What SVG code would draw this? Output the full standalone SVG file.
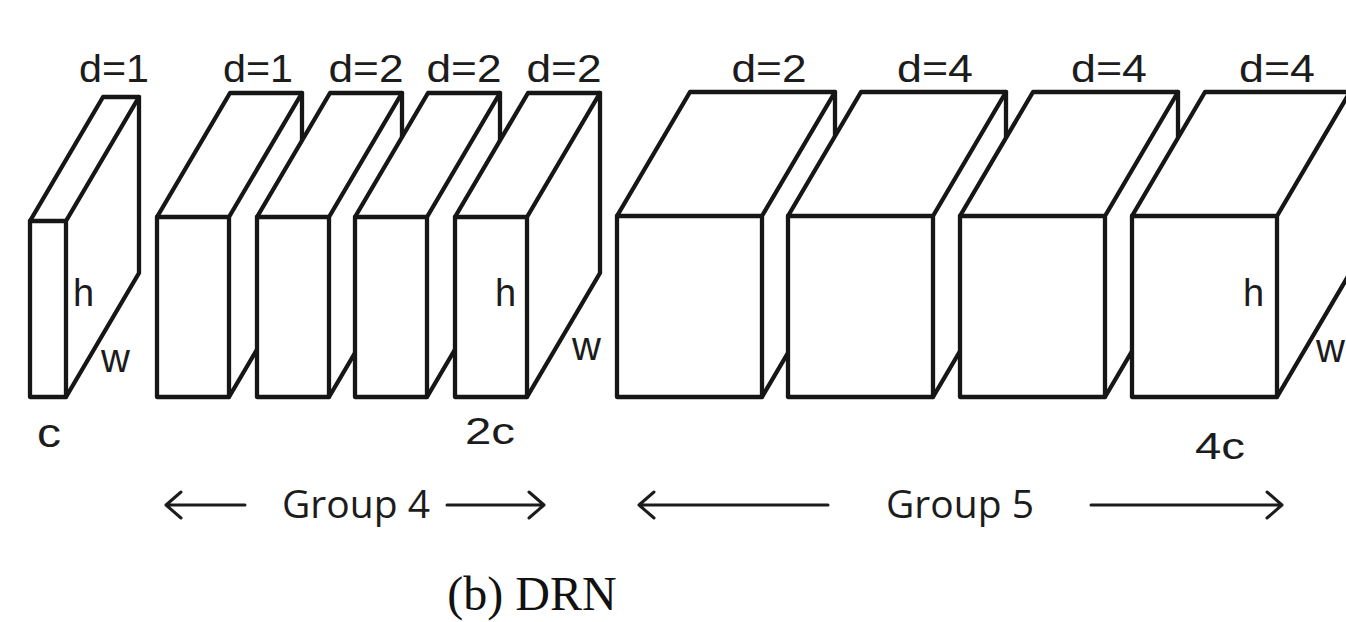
<svg xmlns="http://www.w3.org/2000/svg" width="1346" height="622" viewBox="0 0 1346 622">
  <style>
    .box .solid { fill: #fff; stroke: #161616; stroke-width: 4.3; stroke-linejoin: round; stroke-linecap: round; }
    .box .edge { fill: none; stroke: #161616; stroke-width: 4.3; stroke-linejoin: round; stroke-linecap: round; }
    .lbl { font-family: "Liberation Sans", Arial, sans-serif; fill: #1c1c1c; }
    .d { font-size: 38px; text-anchor: middle; }
    .grp { font-family: "Open Sans", "Noto Sans", sans-serif; font-size: 39px; fill: #1c1c1c; text-anchor: middle; }
    .cap { font-family: "Liberation Serif", "Times New Roman", serif; font-size: 48px; fill: #111; text-anchor: middle; }
    .arrow { fill: none; stroke: #1c1c1c; stroke-width: 3; stroke-linecap: round; stroke-linejoin: round; }
  </style>
  <rect width="1346" height="622" fill="#fff"/>

  <!-- each block: filled silhouette, then the front/top/side dividing edges; depth offset (73,-124) -->

  <!-- input block -->
  <g id="block-c" class="box">
    <path class="solid" d="M30 397 V221 L103 97 H139 V273 L66 397 Z"/>
    <path class="edge" d="M30 221 H66 L139 97 M66 221 V397"/>
  </g>

  <!-- Group 4: four 2c blocks -->
  <g id="g4-block1" class="box">
    <path class="solid" d="M157 397 V217 L230 93 H302 V273 L229 397 Z"/>
    <path class="edge" d="M157 217 H229 L302 93 M229 217 V397"/>
  </g>
  <g id="g4-block2" class="box">
    <path class="solid" d="M257 397 V217 L330 93 H402 V273 L329 397 Z"/>
    <path class="edge" d="M257 217 H329 L402 93 M329 217 V397"/>
  </g>
  <g id="g4-block3" class="box">
    <path class="solid" d="M355 397 V217 L428 93 H500 V273 L427 397 Z"/>
    <path class="edge" d="M355 217 H427 L500 93 M427 217 V397"/>
  </g>
  <g id="g4-block4" class="box">
    <path class="solid" d="M455 397 V217 L528 93 H600 V273 L527 397 Z"/>
    <path class="edge" d="M455 217 H527 L600 93 M527 217 V397"/>
  </g>

  <!-- Group 5: four 4c blocks -->
  <g id="g5-block1" class="box">
    <path class="solid" d="M617 397 V216 L690 92 H835 V273 L762 397 Z"/>
    <path class="edge" d="M617 216 H762 L835 92 M762 216 V397"/>
  </g>
  <g id="g5-block2" class="box">
    <path class="solid" d="M788 397 V216 L861 92 H1006 V273 L933 397 Z"/>
    <path class="edge" d="M788 216 H933 L1006 92 M933 216 V397"/>
  </g>
  <g id="g5-block3" class="box">
    <path class="solid" d="M960 397 V216 L1033 92 H1178 V273 L1105 397 Z"/>
    <path class="edge" d="M960 216 H1105 L1178 92 M1105 216 V397"/>
  </g>
  <g id="g5-block4" class="box">
    <path class="solid" d="M1132 397 V216 L1205 92 H1350 V273 L1277 397 Z"/>
    <path class="edge" d="M1132 216 H1277 L1350 92 M1277 216 V397"/>
  </g>

  <!-- dilation labels -->
  <g id="dilations" class="lbl d">
    <text x="114" y="82" textLength="70" lengthAdjust="spacingAndGlyphs">d=1</text>
    <text x="258" y="82" textLength="70" lengthAdjust="spacingAndGlyphs">d=1</text>
    <text x="366" y="82" textLength="75" lengthAdjust="spacingAndGlyphs">d=2</text>
    <text x="464" y="82" textLength="75" lengthAdjust="spacingAndGlyphs">d=2</text>
    <text x="564" y="82" textLength="75" lengthAdjust="spacingAndGlyphs">d=2</text>
    <text x="769" y="82" textLength="75" lengthAdjust="spacingAndGlyphs">d=2</text>
    <text x="935" y="82" textLength="76" lengthAdjust="spacingAndGlyphs">d=4</text>
    <text x="1109" y="82" textLength="76" lengthAdjust="spacingAndGlyphs">d=4</text>
    <text x="1277" y="82" textLength="76" lengthAdjust="spacingAndGlyphs">d=4</text>
  </g>

  <!-- dimension labels -->
  <g id="dims" class="lbl">
    <text x="73" y="306" font-size="38">h</text>
    <text x="495" y="306" font-size="38">h</text>
    <text x="1243" y="306" font-size="38">h</text>
    <text x="101" y="372" font-size="40">w</text>
    <text x="572" y="360" font-size="40">w</text>
    <text x="1316" y="362" font-size="40">w</text>
    <text x="37" y="447" font-size="40" textLength="24" lengthAdjust="spacingAndGlyphs">c</text>
    <text x="465" y="444" font-size="37" textLength="50" lengthAdjust="spacingAndGlyphs">2c</text>
    <text x="1195" y="459" font-size="37" textLength="50" lengthAdjust="spacingAndGlyphs">4c</text>
  </g>

  <!-- group span arrows -->
  <g id="connectors" class="arrow">
    <path d="M245 505 H166 M181 492 L166 505 L181 518"/>
    <path d="M447 505 H544 M529 492 L544 505 L529 518"/>
    <path d="M828 505 H639 M654 492 L639 505 L654 518"/>
    <path d="M1091 505 H1282 M1267 492 L1282 505 L1267 518"/>
  </g>

  <g id="group-labels">
    <text class="grp" x="356" y="518">Group 4</text>
    <text class="grp" x="960" y="518">Group 5</text>
  </g>

  <text id="caption" class="cap" x="532" y="610">(b) DRN</text>
</svg>
